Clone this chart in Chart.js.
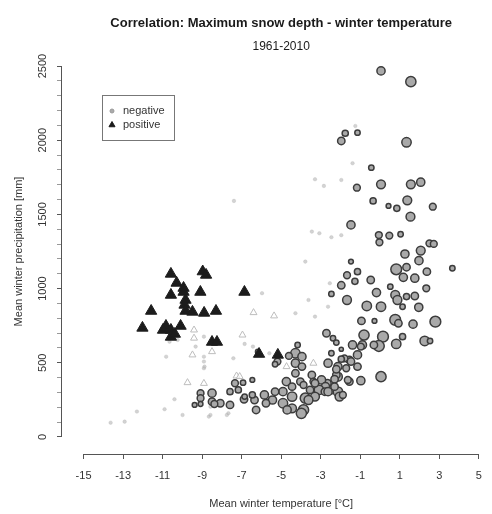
<!DOCTYPE html>
<html>
<head>
<meta charset="utf-8">
<script src="https://cdn.jsdelivr.net/npm/chart.js@4.4.1/dist/chart.umd.min.js"></script>
<style>
    html, body { margin: 0; padding: 0; background: #fff; }
    #wrap { width: 492px; height: 514px; }
</style>
</head>
<body>
<div id="wrap"><canvas id="chart"></canvas></div>
<script>
var FONT = '"Liberation Sans", Arial, sans-serif';

var xTicks = [-15, -13, -11, -9, -7, -5, -3, -1, 1, 3, 5];
var yLabels = [0, 500, 1000, 1500, 2000, 2500];

// significant negative correlation (grey circles, size = |r|)
var negTemp = [0.05, 1.56, -1.76, -1.96, -1.14, 1.34, -0.44, -1.17, 0.05, 1.56, 2.06, -0.35, 1.38, 2.67, 0.43, 0.85, 1.54, -1.47, -0.06, -0.03,
    0.47, 1.04, 2.50, 2.72, 2.06, 1.26, 1.97, 0.82, 1.34, 1.76, 1.18, 2.37, 3.66, -1.47, -1.14, -1.67, -1.27, -0.47, -1.96, -2.46,
    -1.67, -0.18, 0.52, 0.77, 0.88, 1.34, 1.76, 1.14, 1.96, 2.34, -0.67, 0.05, -0.94, -0.28, 0.77, 0.93, 1.67, 2.80, -0.81, 0.15,
    -0.06, 0.82, 1.14, 2.26, 2.53, -1.39, -0.89, -1.14, -1.55, -1.14, -2.13, -2.13, -0.97, 0.05, -1.55, -2.46, -2.13, -2.05, -2.71, -2.38,
    -2.63, -1.96, -1.80, -2.21, -2.66, -2.21, -4.17, -4.28, -3.95, -4.61, -5.19, -4.28, -3.95, -2.21, -1.96, -3.45, -4.28, -4.74, -4.03, -3.37,
    -2.96, -2.30, -2.76, -1.88, -3.09, -3.54, -3.87, -4.45, -4.91, -5.31, -4.45, -3.78, -3.29, -2.79, -4.91, -3.87, -4.45, -5.44, -5.85, -6.35,
    -6.46, -6.27, -5.77, -6.88, -7.34, -6.93, -7.17, -7.59, -7.59, -8.08, -8.50, -9.08, -9.08, -8.50, -9.38, -9.08, -8.38, -6.46, -5.31, -6.85,
    -3.98, -4.70, -3.62, -2.46, -1.47, -0.97, -0.31, -1.71, -1.63, -2.30, -2.63, -3.29, -6.18];
var negPrecip = [2467, 2395, 2047, 1995, 2051, 1986, 1815, 1680, 1703, 1703, 1717, 1591, 1595, 1552, 1557, 1541, 1485, 1429, 1361, 1312,
    1357, 1366, 1305, 1301, 1256, 1233, 1188, 1130, 1144, 1070, 1076, 1114, 1137, 1182, 1114, 1090, 1049, 1058, 1022, 964,
    923, 973, 1013, 957, 923, 946, 950, 878, 874, 1002, 883, 878, 782, 782, 789, 766, 760, 777, 687, 676,
    613, 627, 676, 647, 647, 620, 620, 553, 519, 474, 474, 406, 379, 406, 373, 317, 305, 272, 699, 665,
    497, 591, 530, 418, 362, 636, 620, 564, 541, 546, 508, 497, 474, 456, 524, 418, 429, 373, 373, 373,
    384, 389, 339, 283, 317, 317, 350, 339, 305, 305, 272, 261, 272, 305, 227, 182, 193, 249, 283, 249,
    283, 182, 227, 254, 362, 366, 317, 305, 216, 227, 295, 295, 261, 238, 216, 222, 222, 384, 490, 272,
    159, 182, 249, 564, 508, 609, 620, 463, 384, 339, 305, 362, 575];
var negCorr = [-0.62, -0.72, -0.52, -0.58, -0.48, -0.68, -0.48, -0.55, -0.65, -0.65, -0.62, -0.52, -0.65, -0.55, -0.45, -0.52, -0.65, -0.62, -0.55, -0.55,
    -0.55, -0.48, -0.55, -0.55, -0.65, -0.62, -0.62, -0.75, -0.58, -0.62, -0.62, -0.58, -0.48, -0.45, -0.52, -0.55, -0.52, -0.58, -0.58, -0.48,
    -0.65, -0.62, -0.48, -0.65, -0.65, -0.52, -0.58, -0.48, -0.62, -0.55, -0.68, -0.68, -0.58, -0.45, -0.75, -0.58, -0.62, -0.75, -0.72, -0.75,
    -0.75, -0.68, -0.52, -0.68, -0.48, -0.62, -0.62, -0.62, -0.58, -0.58, -0.62, -0.65, -0.62, -0.72, -0.58, -0.62, -0.68, -0.65, -0.58, -0.48,
    -0.62, -0.42, -0.55, -0.58, -0.58, -0.48, -0.48, -0.68, -0.62, -0.55, -0.55, -0.62, -0.58, -0.58, -0.52, -0.58, -0.58, -0.62, -0.58, -0.55,
    -0.62, -0.58, -0.62, -0.55, -0.68, -0.58, -0.55, -0.58, -0.62, -0.58, -0.68, -0.72, -0.65, -0.58, -0.68, -0.72, -0.65, -0.62, -0.62, -0.58,
    -0.52, -0.58, -0.58, -0.58, -0.55, -0.48, -0.52, -0.52, -0.58, -0.58, -0.62, -0.55, -0.55, -0.58, -0.45, -0.45, -0.55, -0.45, -0.48, -0.48,
    -0.72, -0.62, -0.65, -0.48, -0.58, -0.55, -0.58, -0.55, -0.55, -0.58, -0.62, -0.58, -0.45];

// significant positive correlation (black triangles)
var posTemp = [-10.58, -8.97, -8.80, -10.29, -10.58, -9.94, -9.09, -9.84, -9.89, -9.84, -9.49, -8.90, -8.30, -11.58, -12.02, -10.83, -10.98, -10.58,
    -10.09, -10.58, -8.50, -8.25, -6.86, -6.12, -5.17, -9.94, -10.38];
var posPrecip = [1099, 1115, 1092, 1038, 957, 977, 977, 923, 890, 849, 843, 836, 849, 849, 735, 748, 721, 721,
    748, 674, 640, 640, 977, 559, 553, 1004, 694];

// not significant
var weakNegTemp = [-7.39, -3.07, -2.46, -3.29, -2.84, -1.96, -3.45, -1.96, -3.78, -5.97, -4.28, -2.54, -3.29, -3.62, -1.39, -1.25,
    -13.63, -12.92, -12.30, -10.40, -10.90, -9.99, -8.66, -8.58, -8.91, -8.91, -8.91, -9.33, -10.65, -10.24, -6.85, -6.43,
    -7.75, -8.58, -10.82, -8.91, -7.42, -5.60, -8.88, -7.67, -2.63];
var weakNegPrecip = [1591, 1373, 1346, 1737, 1692, 1732, 1384, 1360, 1182, 969, 834, 1036, 811, 923, 1845, 2096,
    96, 103, 171, 254, 187, 148, 137, 204, 541, 508, 463, 609, 642, 654, 627, 609,
    148, 148, 541, 676, 530, 564, 474, 160, 878];
var weakPosTemp = [-9.74, -9.41, -9.41, -9.49, -6.40, -5.36, -6.96, -8.50, -4.73, -7.26, -7.10, -3.37, -8.91];
var weakPosPrecip = [366, 721, 666, 553, 838, 816, 687, 575, 474, 411, 407, 497, 361];

function zip(xs, ys) {
    var out = [];
    for (var i = 0; i < xs.length; i++) {
        out.push({ x: xs[i], y: ys[i] });
    }
    return out;
}

function corrRadius(c) {
    return (Math.abs(c) - 0.21) * 10;
}

var rDecor = {
    id: 'rDecor',
    afterDraw: function (chart) {
        var ctx = chart.ctx;
        var xs = chart.scales.x;
        var ys = chart.scales.y;
        var area = chart.chartArea;
        var x0 = xs.getPixelForValue(xTicks[0]);
        var x1 = xs.getPixelForValue(xTicks[xTicks.length - 1]);
        var y0 = ys.getPixelForValue(yLabels[0]);
        var y1 = ys.getPixelForValue(yLabels[yLabels.length - 1]);
        var cx = (x0 + x1) / 2;

        ctx.save();
        // axis lines only across the tick range, like base R
        ctx.strokeStyle = '#555';
        ctx.lineWidth = 1;
        ctx.beginPath();
        ctx.moveTo(x0, Math.round(area.bottom) + 0.5);
        ctx.lineTo(x1, Math.round(area.bottom) + 0.5);
        ctx.moveTo(Math.round(area.left) - 0.5, y0);
        ctx.lineTo(Math.round(area.left) - 0.5, y1);
        ctx.stroke();

        ctx.fillStyle = '#1a1a1a';
        ctx.textAlign = 'center';
        ctx.textBaseline = 'middle';
        ctx.font = 'bold 13px ' + FONT;
        ctx.fillText('Correlation: Maximum snow depth - winter temperature', cx, 23);
        ctx.font = '12px ' + FONT;
        ctx.fillText('1961-2010', cx, 47);

        ctx.fillStyle = '#333';
        ctx.font = '11px ' + FONT;
        ctx.fillText('Mean winter temperature [°C]', cx, 504);
        ctx.save();
        ctx.translate(19, (y0 + y1) / 2);
        ctx.rotate(-Math.PI / 2);
        ctx.fillText('Mean winter precipitation [mm]', 0, 0);
        ctx.restore();

        // legend box
        var lx = area.left + 40;
        var ly = area.top + 38;
        ctx.strokeStyle = '#777';
        ctx.strokeRect(lx + 0.5, ly + 0.5, 72, 45);
        ctx.fillStyle = '#aaa';
        ctx.strokeStyle = '#999';
        Chart.helpers.drawPoint(ctx, { pointStyle: 'circle', radius: 2, rotation: 0, borderWidth: 1 }, lx + 10, ly + 16);
        ctx.fillStyle = '#1a1a1a';
        ctx.strokeStyle = '#1a1a1a';
        Chart.helpers.drawPoint(ctx, { pointStyle: 'triangle', radius: 3.5, rotation: 0, borderWidth: 1 }, lx + 10, ly + 30);
        ctx.fillStyle = '#333';
        ctx.textAlign = 'left';
        ctx.font = '11px ' + FONT;
        ctx.fillText('negative', lx + 21, ly + 16);
        ctx.fillText('positive', lx + 21, ly + 30);
        ctx.restore();
    }
};

var chart = new Chart(document.getElementById('chart').getContext('2d'), {
    type: 'scatter',
    data: {
        datasets: [
            {
                label: 'negative (n.s.)',
                data: zip(weakNegTemp, weakNegPrecip),
                pointStyle: 'circle',
                pointRadius: 1.8,
                backgroundColor: 'rgba(175,175,175,0.55)',
                borderColor: 'rgba(175,175,175,0.55)',
                borderWidth: 0.5,
                order: 4
            },
            {
                label: 'positive (n.s.)',
                data: zip(weakPosTemp, weakPosPrecip),
                pointStyle: 'triangle',
                pointRadius: 4,
                backgroundColor: 'rgba(255,255,255,0.6)',
                borderColor: '#bdbdbd',
                borderWidth: 1,
                order: 3
            },
            {
                label: 'negative',
                data: zip(negTemp, negPrecip),
                pointStyle: 'circle',
                pointRadius: function (ctx) { return corrRadius(negCorr[ctx.dataIndex]); },
                backgroundColor: '#a9a9a9',
                borderColor: '#3c3c3c',
                borderWidth: 1.5,
                order: 2
            },
            {
                label: 'positive',
                data: zip(posTemp, posPrecip),
                pointStyle: 'triangle',
                pointRadius: 6.5,
                backgroundColor: '#1c1c1c',
                borderColor: '#1c1c1c',
                borderWidth: 1,
                order: 1
            }
        ]
    },
    options: {
        responsive: true,
        maintainAspectRatio: false,
        animation: false,
        events: [],
        layout: { padding: { top: 57, right: 0, bottom: 0, left: 0 } },
        plugins: {
            legend: { display: false },
            tooltip: { enabled: false }
        },
        scales: {
            x: {
                type: 'linear',
                min: -16.09,
                max: 5.25,
                afterBuildTicks: function (scale) {
                    scale.ticks = xTicks.map(function (v) { return { value: v }; });
                },
                afterFit: function (scale) { scale.height = 60; },
                border: { display: false },
                grid: { drawOnChartArea: false, drawTicks: true, tickLength: 5, tickColor: '#555' },
                ticks: {
                    autoSkip: false,
                    maxRotation: 0,
                    padding: 10,
                    color: '#333',
                    font: { family: FONT, size: 11 },
                    callback: function (v) { return String(v); }
                }
            },
            y: {
                type: 'linear',
                min: -115,
                max: 2561,
                afterBuildTicks: function (scale) {
                    var t = [];
                    for (var v = yLabels[0]; v <= yLabels[yLabels.length - 1]; v += 100) {
                        t.push({ value: v });
                    }
                    scale.ticks = t;
                },
                afterFit: function (scale) { scale.width = 62; },
                border: { display: false },
                grid: {
                    drawOnChartArea: false,
                    drawTicks: true,
                    tickLength: 5,
                    tickColor: function (ctx) { return ctx.tick && ctx.tick.value % 500 === 0 ? '#555' : '#999'; }
                },
                ticks: {
                    autoSkip: false,
                    minRotation: 90,
                    maxRotation: 90,
                    crossAlign: 'center',
                    padding: 2,
                    color: '#333',
                    font: { family: FONT, size: 11 },
                    callback: function (v) { return v % 500 === 0 ? String(v) : ''; }
                }
            }
        }
    },
    plugins: [rDecor]
});
</script>
</body>
</html>
